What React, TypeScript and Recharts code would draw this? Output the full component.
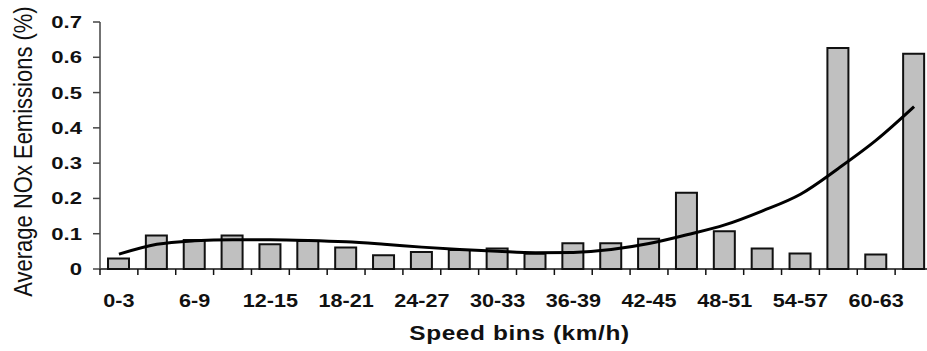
import React from 'react';
import { ComposedChart, Bar, Line, XAxis, YAxis, Label } from 'recharts';

// speed bins (km/h)
const bins = [
    '0-3', '3-6', '6-9', '9-12', '12-15', '15-18', '18-21', '21-24', '24-27', '27-30', '30-33',
    '33-36', '36-39', '39-42', '42-45', '45-48', '48-51', '51-54', '54-57', '57-60', '60-63', '63-66',
];

// average NOx emissions per bin (%)
const noxValues = [
    0.03, 0.095, 0.082, 0.095, 0.07, 0.079, 0.061, 0.039, 0.048, 0.054, 0.058,
    0.043, 0.073, 0.073, 0.086, 0.216, 0.107, 0.058, 0.044, 0.626, 0.041, 0.61,
];

// trend line
const trendValues = [
    0.042, 0.07, 0.08, 0.083, 0.083, 0.081, 0.077, 0.07, 0.062, 0.055, 0.05,
    0.046, 0.047, 0.055, 0.072, 0.097, 0.125, 0.165, 0.212, 0.285, 0.365, 0.46,
];

const yTicks = [0, 0.1, 0.2, 0.3, 0.4, 0.5, 0.6, 0.7];

const data = bins.map((bin, i) => ({ bin, nox: noxValues[i], trend: trendValues[i] }));

const CHART_W = 933;
const CHART_H = 351;
const Y_AXIS_W = 100;
const BAND = (CHART_W - Y_AXIS_W) / bins.length;
const FONT = '"Liberation Sans", Arial, sans-serif';
const INK = '#111';

const XTick = (props: any) => {
    const { x, y, payload } = props;
    const idx = payload.index;
    const left = x - BAND / 2;
    return (
        <g>
            <line x1={left} x2={left} y1={y} y2={y + 6} stroke={INK} strokeWidth={1.5} />
            {idx === bins.length - 1 && (
                <line x1={x + BAND / 2} x2={x + BAND / 2} y1={y} y2={y + 6} stroke={INK} strokeWidth={1.5} />
            )}
            {idx % 2 === 0 && (
                <g transform={`translate(${x},${y + 37.5}) scale(1.2,1)`}>
                    <text x={0} y={0} textAnchor="middle" fontFamily={FONT} fontWeight="bold" fontSize={18} fill={INK}>
                        {payload.value}
                    </text>
                </g>
            )}
        </g>
    );
};

const YTick = (props: any) => {
    const { x, y, payload } = props;
    const label = payload.value === 0 ? '0' : payload.value.toFixed(1);
    return (
        <g transform={`translate(${x},${y + 6}) scale(1.3,1)`}>
            <text x={0} y={0} textAnchor="end" fontFamily={FONT} fontWeight="bold" fontSize={17} fill={INK}>
                {label}
            </text>
        </g>
    );
};

const YTitle = (props: any) => {
    const { viewBox } = props;
    const cy = viewBox.y + viewBox.height / 2 + 6;
    return (
        <g transform={`translate(31.5,${cy}) rotate(-90) scale(1,1.2)`}>
            <text x={0} y={0} textAnchor="middle" fontFamily={FONT} fontSize={22} fill={INK}>
                Average NOx Eemissions (%)
            </text>
        </g>
    );
};

const XTitle = (props: any) => {
    const { viewBox } = props;
    const cx = viewBox.x + viewBox.width / 2 + 3;
    return (
        <g transform={`translate(${cx},340) scale(1.22,1)`}>
            <text x={0} y={0} textAnchor="middle" fontFamily={FONT} fontWeight="bold" fontSize={20} fill={INK} letterSpacing={0.5}>
                Speed bins (km/h)
            </text>
        </g>
    );
};

export default function App() {
    return (
        <div style={{ position: 'absolute', left: 0, top: 0, width: 927, height: 351, overflow: 'hidden', background: '#fff' }}>
            <ComposedChart
                width={CHART_W}
                height={CHART_H}
                data={data}
                margin={{ top: 22, right: 0, bottom: 0, left: 0 }}
                barSize={21}
            >
                <XAxis
                    dataKey="bin"
                    interval={0}
                    height={82}
                    tickLine={false}
                    tickSize={0}
                    tickMargin={0}
                    tick={<XTick />}
                    axisLine={{ stroke: INK, strokeWidth: 1.5 }}
                >
                    <Label content={<XTitle />} />
                </XAxis>
                <YAxis
                    width={Y_AXIS_W}
                    domain={[0, 0.7]}
                    ticks={yTicks}
                    tickSize={7}
                    tickMargin={11}
                    tick={<YTick />}
                    tickLine={{ stroke: '#444', strokeWidth: 1.5 }}
                    axisLine={{ stroke: '#444', strokeWidth: 1.5 }}
                >
                    <Label content={<YTitle />} />
                </YAxis>
                <Bar dataKey="nox" fill="#c0c0c0" stroke={INK} strokeWidth={2} isAnimationActive={false} />
                <Line
                    type="monotone"
                    dataKey="trend"
                    stroke="#000"
                    strokeWidth={3}
                    dot={false}
                    isAnimationActive={false}
                />
            </ComposedChart>
        </div>
    );
}
